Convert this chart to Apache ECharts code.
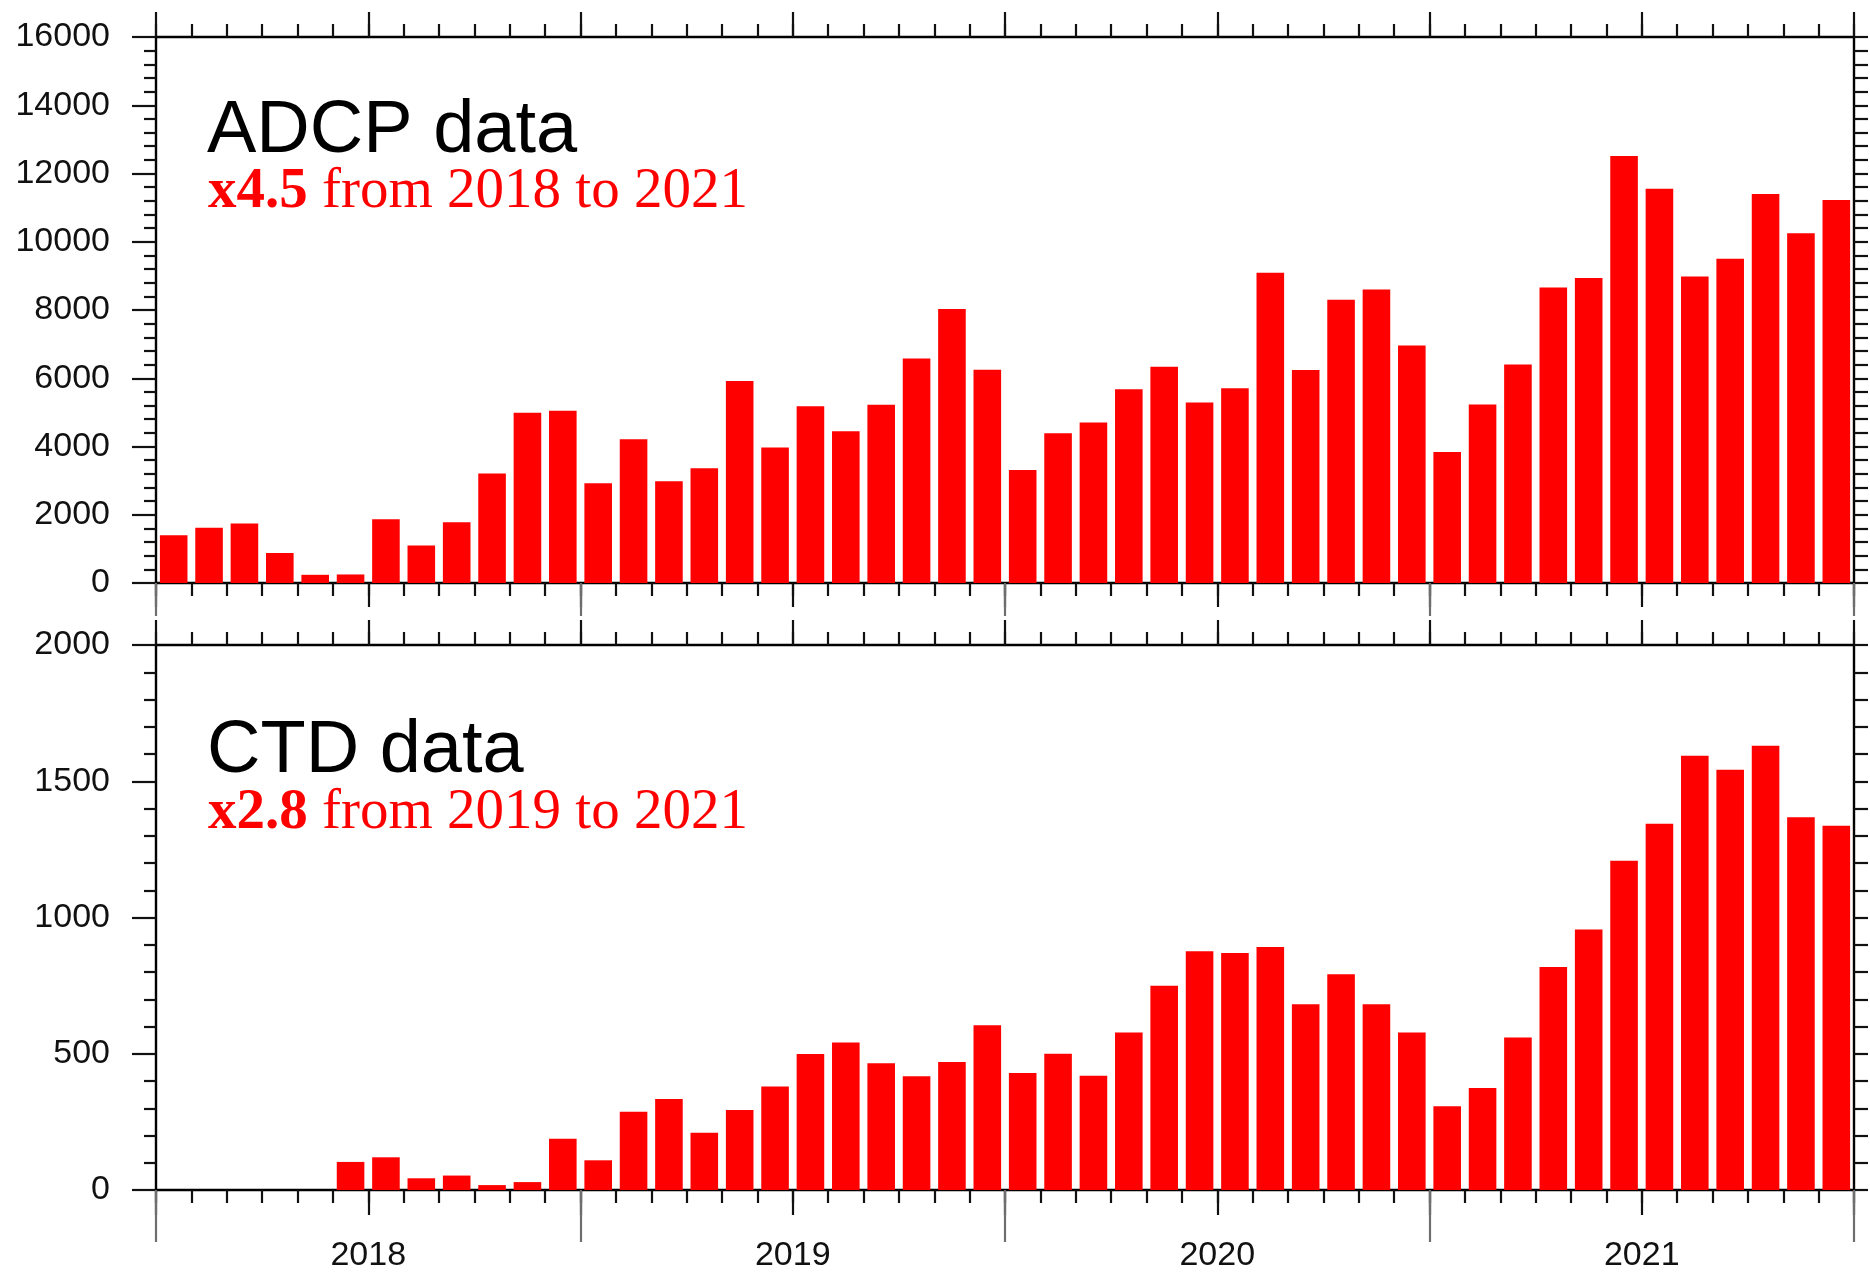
<!DOCTYPE html>
<html>
<head>
<meta charset="utf-8">
<title>ADCP / CTD data</title>
<script src="https://cdn.jsdelivr.net/npm/echarts@6/dist/echarts.min.js"></script>
<style>
  html, body { margin: 0; padding: 0; background: #fff; }
  #chart { width: 1870px; height: 1273px; }
</style>
</head>
<body>
<div id="chart"></div>
<script>
// monthly counts, Jan 2018 .. Dec 2021
var yearLabels = ['2018', '2019', '2020', '2021'];
var adcp = [
  1400, 1620, 1740, 880, 240, 250, 1870, 1100, 1780, 3210, 4990, 5050,
  2920, 4210, 2980, 3360, 5920, 3970, 5180, 4450, 5220, 6580, 8030, 6250,
  3310, 4390, 4700, 5680, 6340, 5290, 5710, 9090, 6240, 8300, 8600, 6960,
  3840, 5230, 6400, 8660, 8940, 12510, 11550, 8980, 9500, 11400, 10250, 11220
];
var ctd = [
  0, 0, 0, 0, 0, 103, 120, 43, 53, 18, 29, 188,
  109, 287, 334, 210, 294, 380, 499, 541, 465, 417, 470, 605,
  429, 500, 419, 578, 750, 876, 870, 892, 682, 792, 682, 578,
  307, 374, 560, 818, 956, 1208, 1344, 1594, 1542, 1630, 1368, 1337
];
var adcpTicks = [0, 2000, 4000, 6000, 8000, 10000, 12000, 14000, 16000];
var ctdTicks = [0, 500, 1000, 1500, 2000];

var months = [];
yearLabels.forEach(function (y) {
  for (var m = 1; m <= 12; m++) months.push(y + '-' + (m < 10 ? '0' + m : m));
});

var ink = '#111';
var grey = '#6e6e6e';

// month ticks are drawn by plain value axes (0..48) stacked on the same edge
function xTicks(grid, pos, interval, len, color, withLine, z) {
  return {
    type: 'value', gridIndex: grid, position: pos,
    min: 0, max: months.length, interval: interval, z: z || 0,
    axisLine: { show: !!withLine, onZero: false, lineStyle: { color: '#000', width: 2.4 } },
    axisTick: { show: true, inside: false, length: len, lineStyle: { color: color, width: 2.2 } },
    axisLabel: { show: false },
    splitLine: { show: false }
  };
}

function barAxis(grid) {
  return {
    type: 'category', gridIndex: grid, data: months, show: false,
    boundaryGap: true, axisLine: { onZero: false }
  };
}

function yAxis(grid, pos, ticks, minorLen, majorLen, labels) {
  return {
    type: 'value', gridIndex: grid, position: pos,
    min: ticks[0], max: ticks[ticks.length - 1], interval: ticks[1] - ticks[0],
    axisLine: { show: true, onZero: false, lineStyle: { color: '#000', width: 2.4 } },
    axisTick: { show: true, inside: false, length: majorLen, lineStyle: { color: ink, width: 2.2 } },
    minorTick: { show: true, splitNumber: 5, length: minorLen, lineStyle: { color: ink, width: 2.2 } },
    axisLabel: {
      show: labels, margin: 46, color: ink,
      fontFamily: 'Liberation Sans', fontSize: 34,
      formatter: function (v) { return String(v); }
    },
    splitLine: { show: false },
    minorSplitLine: { show: false }
  };
}

var chart = echarts.init(document.getElementById('chart'));

var bottomYears = xTicks(1, 'bottom', 6, 25, ink, false);
bottomYears.axisLabel = {
  show: true, margin: 49, color: ink, fontFamily: 'Liberation Sans', fontSize: 34,
  formatter: function (v) {
    return v % 12 === 6 ? yearLabels[(v - 6) / 12] : '';
  }
};

chart.setOption({
  animation: false,
  backgroundColor: '#fff',
  grid: [
    { left: 156, right: 16, top: 37, height: 546 },
    { left: 156, right: 16, top: 645, height: 548 }
  ],
  xAxis: [
    barAxis(0),
    xTicks(0, 'bottom', 1, 13, ink, true),
    xTicks(0, 'bottom', 6, 24, ink, false),
    xTicks(0, 'bottom', 12, 33, grey, false, 2),
    xTicks(0, 'top', 1, 13, ink, true),
    xTicks(0, 'top', 6, 25, ink, false),
    barAxis(1),
    xTicks(1, 'bottom', 1, 13, ink, true),
    bottomYears,
    xTicks(1, 'bottom', 12, 52, grey, false, 2),
    xTicks(1, 'top', 1, 13, ink, true),
    xTicks(1, 'top', 6, 25, ink, false)
  ],
  yAxis: [
    yAxis(0, 'left', adcpTicks, 12, 24, true),
    yAxis(0, 'right', adcpTicks, 14, 14, false),
    yAxis(1, 'left', ctdTicks, 12, 24, true),
    yAxis(1, 'right', ctdTicks, 14, 14, false)
  ],
  series: [
    {
      name: 'ADCP', type: 'bar', xAxisIndex: 0, yAxisIndex: 0,
      data: adcp, barCategoryGap: '22%', itemStyle: { color: '#ff0000' }
    },
    {
      name: 'CTD', type: 'bar', xAxisIndex: 6, yAxisIndex: 2,
      data: ctd, barCategoryGap: '22%', itemStyle: { color: '#ff0000' }
    }
  ],
  graphic: [
    {
      type: 'text', z: 10,
      style: { text: 'ADCP data', x: 207, y: 132, verticalAlign: 'middle', textVerticalAlign: 'middle',
        font: '74px "Liberation Sans"', fill: '#000' }
    },
    {
      type: 'text', z: 10,
      style: {
        text: '{b|x4.5} from 2018 to 2021', x: 208, y: 192,
        verticalAlign: 'middle', textVerticalAlign: 'middle',
        font: '57px "Liberation Serif"', fill: '#ff0000',
        rich: { b: { fontWeight: 'bold', fontSize: 57, fontFamily: 'Liberation Serif', fill: '#ff0000' } }
      }
    },
    {
      type: 'text', z: 10,
      style: { text: 'CTD data', x: 207, y: 752, verticalAlign: 'middle', textVerticalAlign: 'middle',
        font: '74px "Liberation Sans"', fill: '#000' }
    },
    {
      type: 'text', z: 10,
      style: {
        text: '{b|x2.8} from 2019 to 2021', x: 208, y: 813,
        verticalAlign: 'middle', textVerticalAlign: 'middle',
        font: '57px "Liberation Serif"', fill: '#ff0000',
        rich: { b: { fontWeight: 'bold', fontSize: 57, fontFamily: 'Liberation Serif', fill: '#ff0000' } }
      }
    }
  ]
});
</script>
</body>
</html>
